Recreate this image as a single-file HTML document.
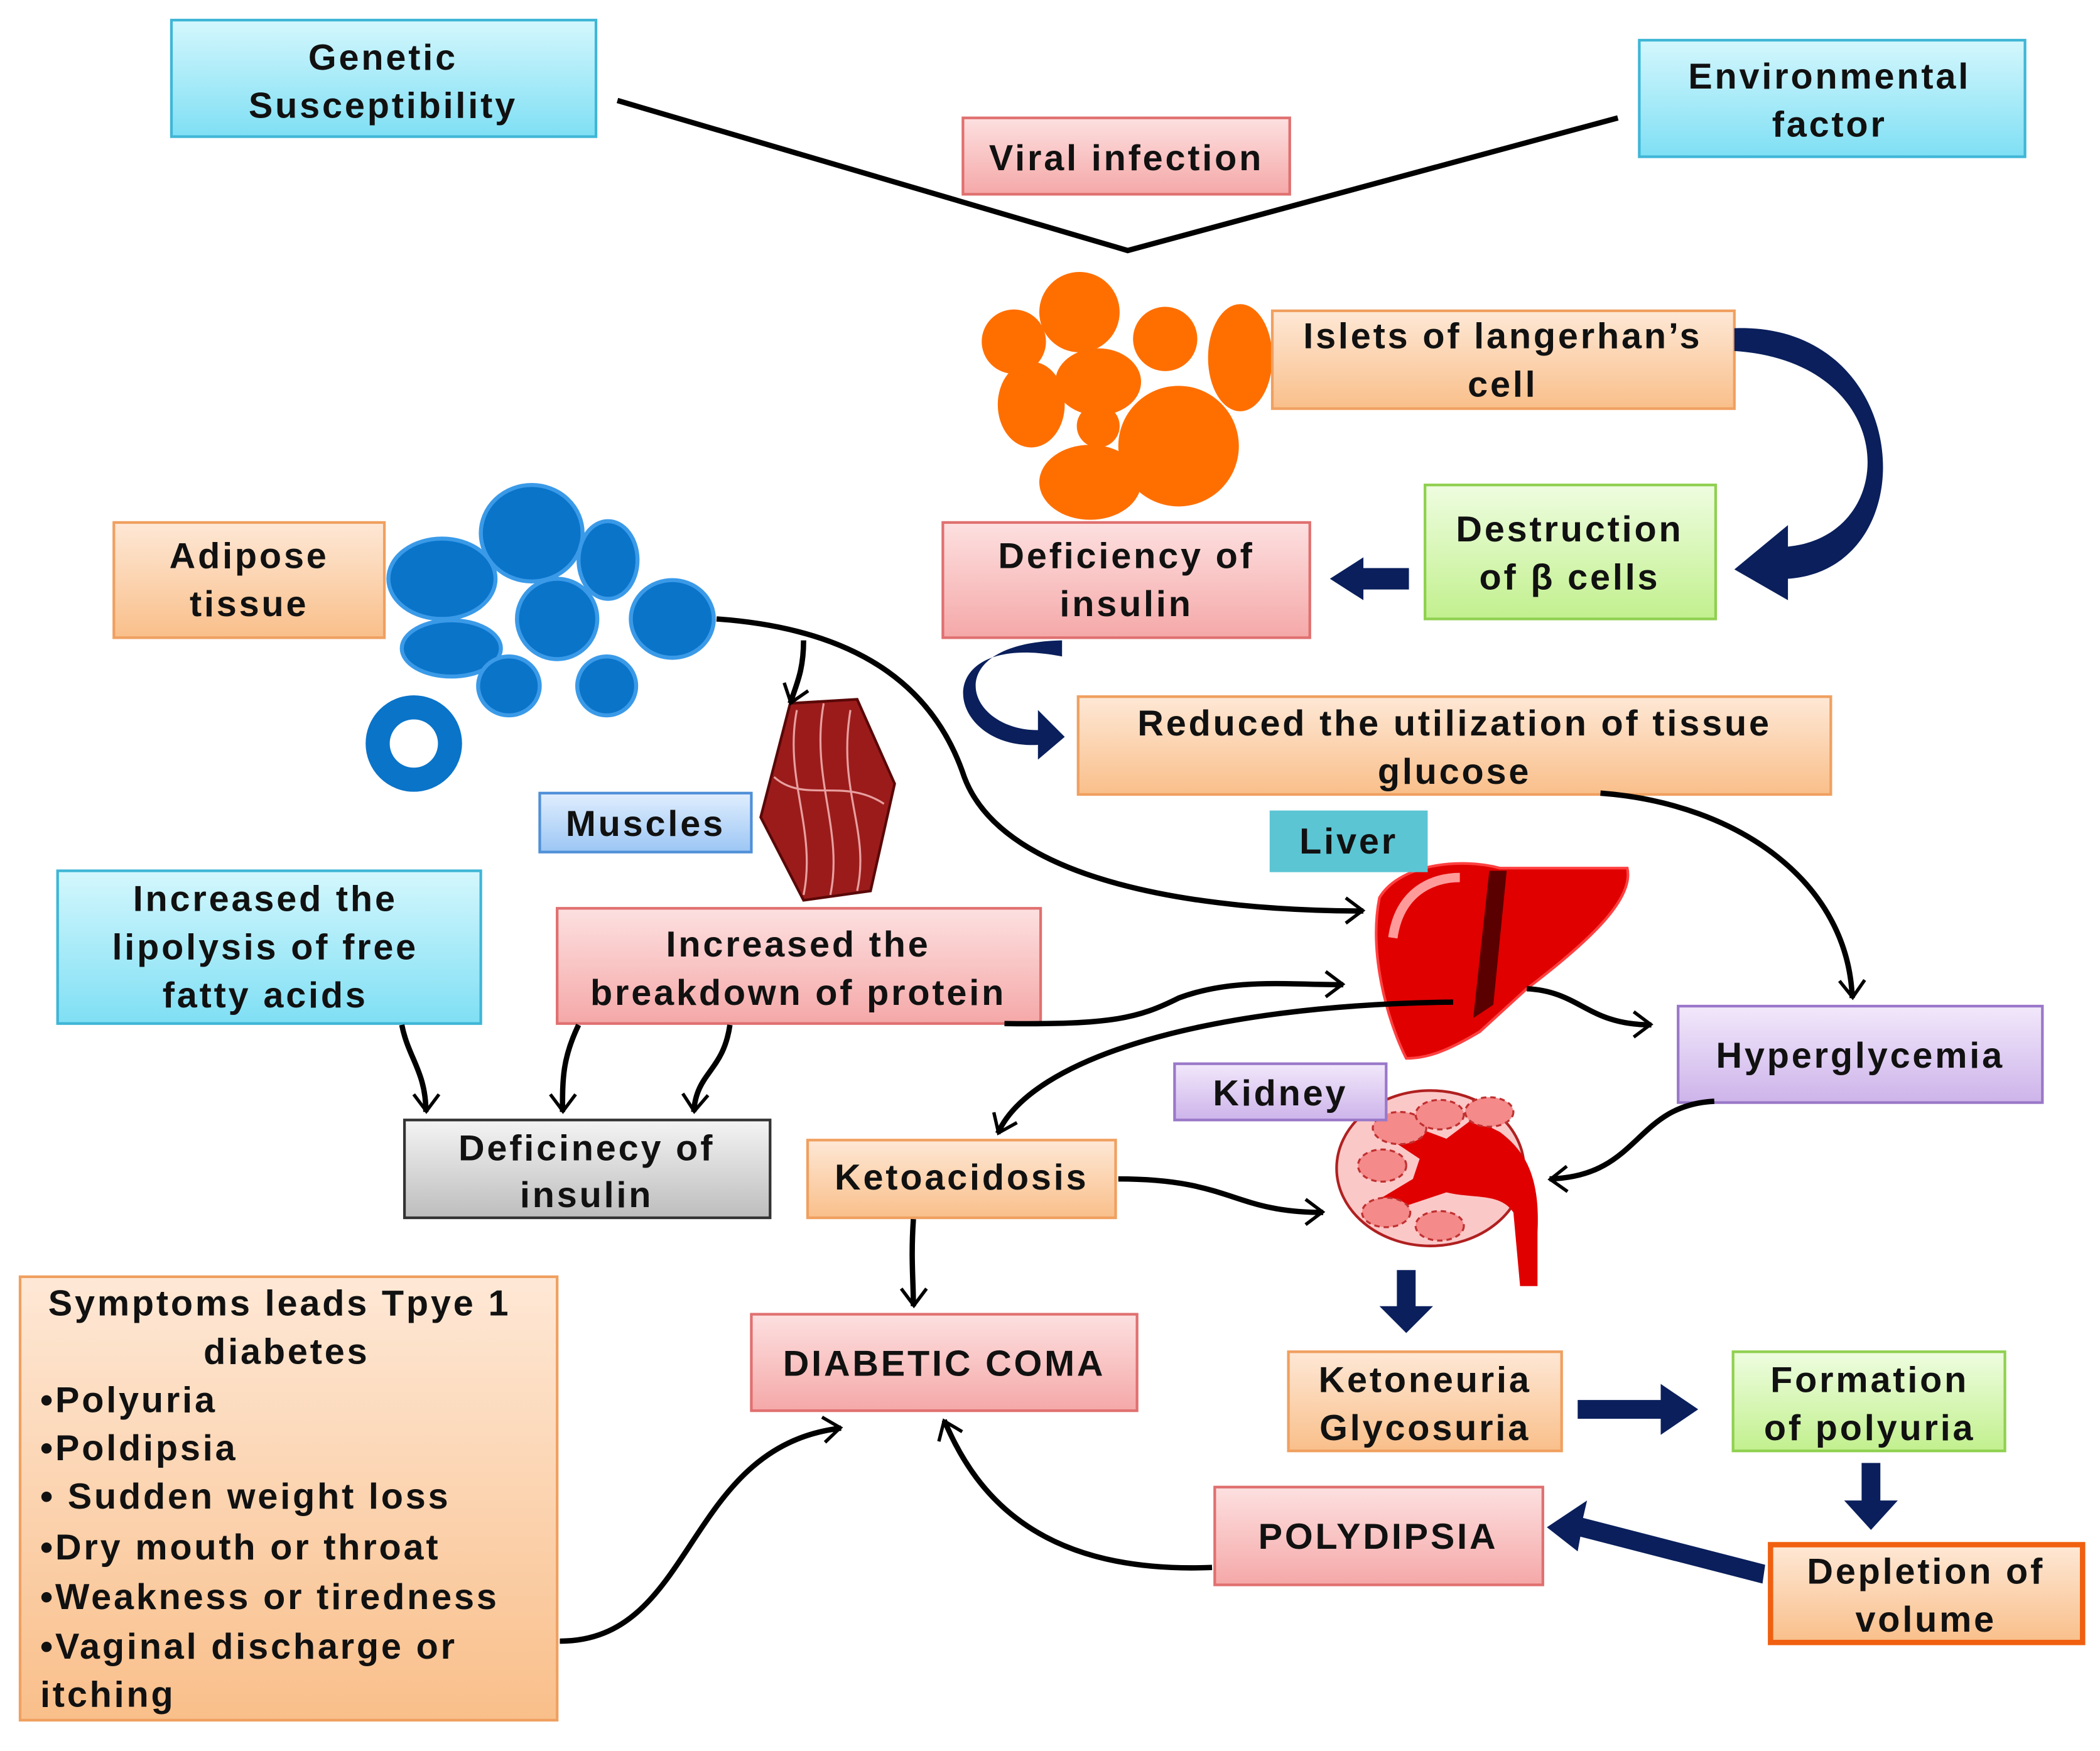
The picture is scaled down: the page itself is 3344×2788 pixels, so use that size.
<!DOCTYPE html>
<html><head><meta charset="utf-8"><style>
html,body{margin:0;padding:0;background:#fff;}
svg{display:block;}
text{font-family:"Liberation Sans",sans-serif;font-weight:bold;font-size:27px;fill:#111;text-anchor:middle;letter-spacing:1.8px;}
text.l{text-anchor:start;}
</style></head><body>
<svg width="3344" height="2788" viewBox="0 0 1568 1307" preserveAspectRatio="none" xmlns="http://www.w3.org/2000/svg">
<defs>
<linearGradient id="cy" x1="0" y1="0" x2="0" y2="1"><stop offset="0" stop-color="#d4f7fd"/><stop offset="1" stop-color="#7fdff4"/></linearGradient>
<linearGradient id="pk" x1="0" y1="0" x2="0" y2="1"><stop offset="0" stop-color="#fde0e0"/><stop offset="1" stop-color="#f5a8a8"/></linearGradient>
<linearGradient id="or" x1="0" y1="0" x2="0" y2="1"><stop offset="0" stop-color="#fee8d6"/><stop offset="1" stop-color="#f9bf8a"/></linearGradient>
<linearGradient id="gr" x1="0" y1="0" x2="0" y2="1"><stop offset="0" stop-color="#eefde0"/><stop offset="1" stop-color="#c2f08e"/></linearGradient>
<linearGradient id="lv" x1="0" y1="0" x2="0" y2="1"><stop offset="0" stop-color="#f2e8fb"/><stop offset="1" stop-color="#cdb4ea"/></linearGradient>
<linearGradient id="bl" x1="0" y1="0" x2="0" y2="1"><stop offset="0" stop-color="#e0eefe"/><stop offset="1" stop-color="#9cc6f4"/></linearGradient>
<linearGradient id="gy" x1="0" y1="0" x2="0" y2="1"><stop offset="0" stop-color="#f4f4f4"/><stop offset="1" stop-color="#bdbdbd"/></linearGradient>
<marker id="ah" viewBox="0 0 10 10" refX="8" refY="5" markerWidth="7" markerHeight="7" orient="auto" markerUnits="userSpaceOnUse" style="overflow:visible"><path d="M-12,-10 L8,5 L-12,20" transform="scale(0.9)" fill="none" stroke="#000" stroke-width="4"/></marker>
</defs>

<polyline points="461,75 842,187 1208,88" fill="none" stroke="#000" stroke-width="4"/>

<g fill="#ff6f00">
<ellipse cx="806" cy="233" rx="30" ry="30"/><ellipse cx="757" cy="255" rx="24" ry="24"/><ellipse cx="870" cy="253" rx="24" ry="24"/>
<ellipse cx="926" cy="267" rx="24" ry="40"/><ellipse cx="820" cy="285" rx="32" ry="25"/><ellipse cx="770" cy="302" rx="25" ry="32"/>
<ellipse cx="880" cy="333" rx="45" ry="45"/><ellipse cx="820" cy="318" rx="16" ry="16"/><ellipse cx="814" cy="360" rx="38" ry="28"/>
</g>
<g fill="#0a74c9" stroke="#3a9ae8" stroke-width="3">
<ellipse cx="397" cy="398" rx="38" ry="36"/><ellipse cx="454" cy="418" rx="22" ry="29"/><ellipse cx="330" cy="432" rx="40" ry="30"/>
<ellipse cx="416" cy="462" rx="30" ry="30"/><ellipse cx="502" cy="462" rx="31" ry="29"/><ellipse cx="337" cy="484" rx="37" ry="21"/>
<ellipse cx="380" cy="512" rx="23" ry="22"/><ellipse cx="453" cy="512" rx="22" ry="22"/>
</g>
<circle cx="309" cy="555" r="27" fill="none" stroke="#0a74c9" stroke-width="18"/>

<path d="M590,525 L640,522 L668,585 L650,665 L600,672 L568,610 Z" fill="#9b1b1b" stroke="#5a0808" stroke-width="2"/>
<g stroke="#e8a0a0" stroke-width="1.5" fill="none"><path d="M595,530 C585,580 610,620 600,668"/><path d="M615,525 C605,580 630,620 620,668"/><path d="M635,530 C625,590 650,620 640,665"/><path d="M578,580 C600,600 630,580 660,600"/></g>

<path d="M1030,670 C1045,645 1090,640 1120,648 L1215,648 C1220,670 1190,700 1140,738 L1105,770 C1080,785 1065,790 1050,790 C1035,760 1022,710 1030,670 Z" fill="#e00000" stroke="#ff4040" stroke-width="2"/>
<path d="M1112,650 L1125,650 L1115,750 L1100,760 Z" fill="#5a0000"/>
<path d="M1040,700 C1045,665 1070,655 1090,655" stroke="#ff9a9a" stroke-width="7" fill="none"/>

<ellipse cx="1068" cy="872" rx="70" ry="58" fill="#fbc8c8" stroke="#b02020" stroke-width="2"/>
<path d="M1060,865 L1030,845 L1040,835 L1080,850 L1100,835 L1120,845 C1140,860 1150,880 1148,920 L1148,960 L1135,960 L1130,905 C1120,890 1100,895 1080,890 L1035,905 L1030,895 L1055,880 Z" fill="#e00000"/>
<g fill="#f48a8a" stroke="#c03030" stroke-dasharray="4,3" stroke-width="1.5">
<ellipse cx="1045" cy="842" rx="20" ry="12"/><ellipse cx="1075" cy="832" rx="18" ry="11"/><ellipse cx="1112" cy="830" rx="18" ry="11"/>
<ellipse cx="1032" cy="870" rx="18" ry="12"/><ellipse cx="1035" cy="905" rx="18" ry="11"/><ellipse cx="1075" cy="915" rx="18" ry="11"/>
</g>

<g stroke-width="2">
<rect x="128" y="15" width="317" height="87" fill="url(#cy)" stroke="#3fb6d6"/>
<rect x="1224" y="30" width="288" height="87" fill="url(#cy)" stroke="#3fb6d6"/>
<rect x="719" y="88" width="244" height="57" fill="url(#pk)" stroke="#e07070"/>
<rect x="950" y="232" width="345" height="73" fill="url(#or)" stroke="#f0a060"/>
<rect x="1064" y="362" width="217" height="100" fill="url(#gr)" stroke="#90d050"/>
<rect x="704" y="390" width="274" height="86" fill="url(#pk)" stroke="#e07070"/>
<rect x="85" y="390" width="202" height="86" fill="url(#or)" stroke="#f0a060"/>
<rect x="805" y="520" width="562" height="73" fill="url(#or)" stroke="#f0a060"/>
<rect x="403" y="592" width="158" height="44" fill="url(#bl)" stroke="#5090d8"/>
<rect x="948" y="605" width="118" height="46" fill="#5cc5d3" stroke="none"/>
<rect x="43" y="650" width="316" height="114" fill="url(#cy)" stroke="#3fb6d6"/>
<rect x="416" y="678" width="361" height="86" fill="url(#pk)" stroke="#e07070"/>
<rect x="1253" y="751" width="272" height="72" fill="url(#lv)" stroke="#9a78c8"/>
<rect x="877" y="794" width="158" height="42" fill="url(#lv)" stroke="#9a78c8"/>
<rect x="302" y="836" width="273" height="73" fill="url(#gy)" stroke="#333"/>
<rect x="603" y="851" width="230" height="58" fill="url(#or)" stroke="#f0a060"/>
<rect x="15" y="953" width="401" height="331" fill="url(#or)" stroke="#f0a060"/>
<rect x="561" y="981" width="288" height="72" fill="url(#pk)" stroke="#e07070"/>
<rect x="962" y="1009" width="204" height="74" fill="url(#or)" stroke="#f0a060"/>
<rect x="1294" y="1009" width="203" height="74" fill="url(#gr)" stroke="#90d050"/>
<rect x="907" y="1110" width="245" height="73" fill="url(#pk)" stroke="#e07070"/>
<rect x="1322" y="1153" width="233" height="73" fill="url(#or)" stroke="#f06010" stroke-width="4"/>
</g>

<text x="286" y="52">Genetic</text><text x="286" y="88">Susceptibility</text>
<text x="1366" y="66">Environmental</text><text x="1366" y="102">factor</text>
<text x="841" y="127">Viral infection</text>
<text x="1122" y="260">Islets of langerhan’s</text><text x="1122" y="296">cell</text>
<text x="1172" y="404">Destruction</text><text x="1172" y="440">of β cells</text>
<text x="841" y="424">Deficiency of</text><text x="841" y="460">insulin</text>
<text x="186" y="424">Adipose</text><text x="186" y="460">tissue</text>
<text x="1086" y="549">Reduced the utilization  of tissue</text><text x="1086" y="585">glucose</text>
<text x="482" y="624">Muscles</text>
<text x="1007" y="637">Liver</text>
<text x="198" y="680">Increased the</text><text x="198" y="716">lipolysis of  free</text><text x="198" y="752">fatty acids</text>
<text x="596" y="714">Increased the</text><text x="596" y="750">breakdown of protein</text>
<text x="1389" y="797">Hyperglycemia</text>
<text x="956" y="825">Kidney</text>
<text x="438" y="866">Deficinecy of</text><text x="438" y="901">insulin</text>
<text x="718" y="888">Ketoacidosis</text>
<text x="705" y="1027">DIABETIC COMA</text>
<text x="1064" y="1039">Ketoneuria</text><text x="1064" y="1075">Glycosuria</text>
<text x="1396" y="1039">Formation</text><text x="1396" y="1075">of polyuria</text>
<text x="1029" y="1156">POLYDIPSIA</text>
<text x="1438" y="1182">Depletion of</text><text x="1438" y="1218">volume</text>
<text class="l" x="36" y="982">Symptoms leads  Tpye 1</text>
<text class="l" x="152" y="1018">diabetes</text>
<text class="l" x="30" y="1054">•Polyuria</text>
<text class="l" x="30" y="1090">•Poldipsia</text>
<text class="l" x="30" y="1126">• Sudden weight loss</text>
<text class="l" x="30" y="1164">•Dry mouth or throat</text>
<text class="l" x="30" y="1201">•Weakness or tiredness</text>
<text class="l" x="30" y="1238">•Vaginal discharge or</text>
<text class="l" x="30" y="1274">itching</text>

<g fill="none" stroke="#000" stroke-width="4" marker-end="url(#ah)">
<path d="M535,462 C650,470 700,520 720,580 C750,660 900,680 1018,680"/>
<path d="M600,478 C600,500 595,510 590,525"/>
<path d="M1195,592 C1300,600 1380,660 1383,745"/>
<path d="M750,764 C830,765 850,760 880,745 C920,730 960,735 1003,735"/>
<path d="M1085,748 C900,750 770,790 745,846"/>
<path d="M1140,738 C1180,740 1185,765 1233,765"/>
<path d="M1280,822 C1220,825 1225,878 1157,880"/>
<path d="M835,880 C920,880 920,905 988,905"/>
<path d="M682,910 C680,940 682,955 682,975"/>
<path d="M300,765 C305,790 318,800 318,830"/>
<path d="M432,765 C420,790 420,805 420,830"/>
<path d="M545,765 C540,800 520,800 518,830"/>
<path d="M418,1225 C520,1225 510,1080 628,1066"/>
<path d="M905,1170 C780,1175 730,1120 705,1060"/>
</g>

<g fill="#0a1f5c">
<polygon points="1052,424 1018,424 1018,416 993,432 1018,448 1018,440 1052,440"/>
<polygon points="1043,948 1057,948 1057,975 1070,975 1050,995 1030,975 1043,975"/>
<polygon points="1178,1045 1240,1045 1240,1033 1268,1052 1240,1071 1240,1059 1178,1059"/>
<polygon points="1390,1092 1404,1092 1404,1120 1417,1120 1397,1142 1377,1120 1390,1120"/>
<polygon points="1318,1168 1182,1133 1185,1120 1155,1140 1178,1158 1180,1147 1316,1182"/>
<path d="M1295,262 C1420,270 1420,400 1335,408 L1335,392 L1295,425 L1335,448 L1335,432 C1440,425 1430,240 1295,245 Z"/>
<path d="M793,478 C700,480 720,545 775,545 L775,530 L795,550 L775,567 L775,556 C705,560 690,470 793,490 Z"/>
</g>
</svg>
</body></html>
